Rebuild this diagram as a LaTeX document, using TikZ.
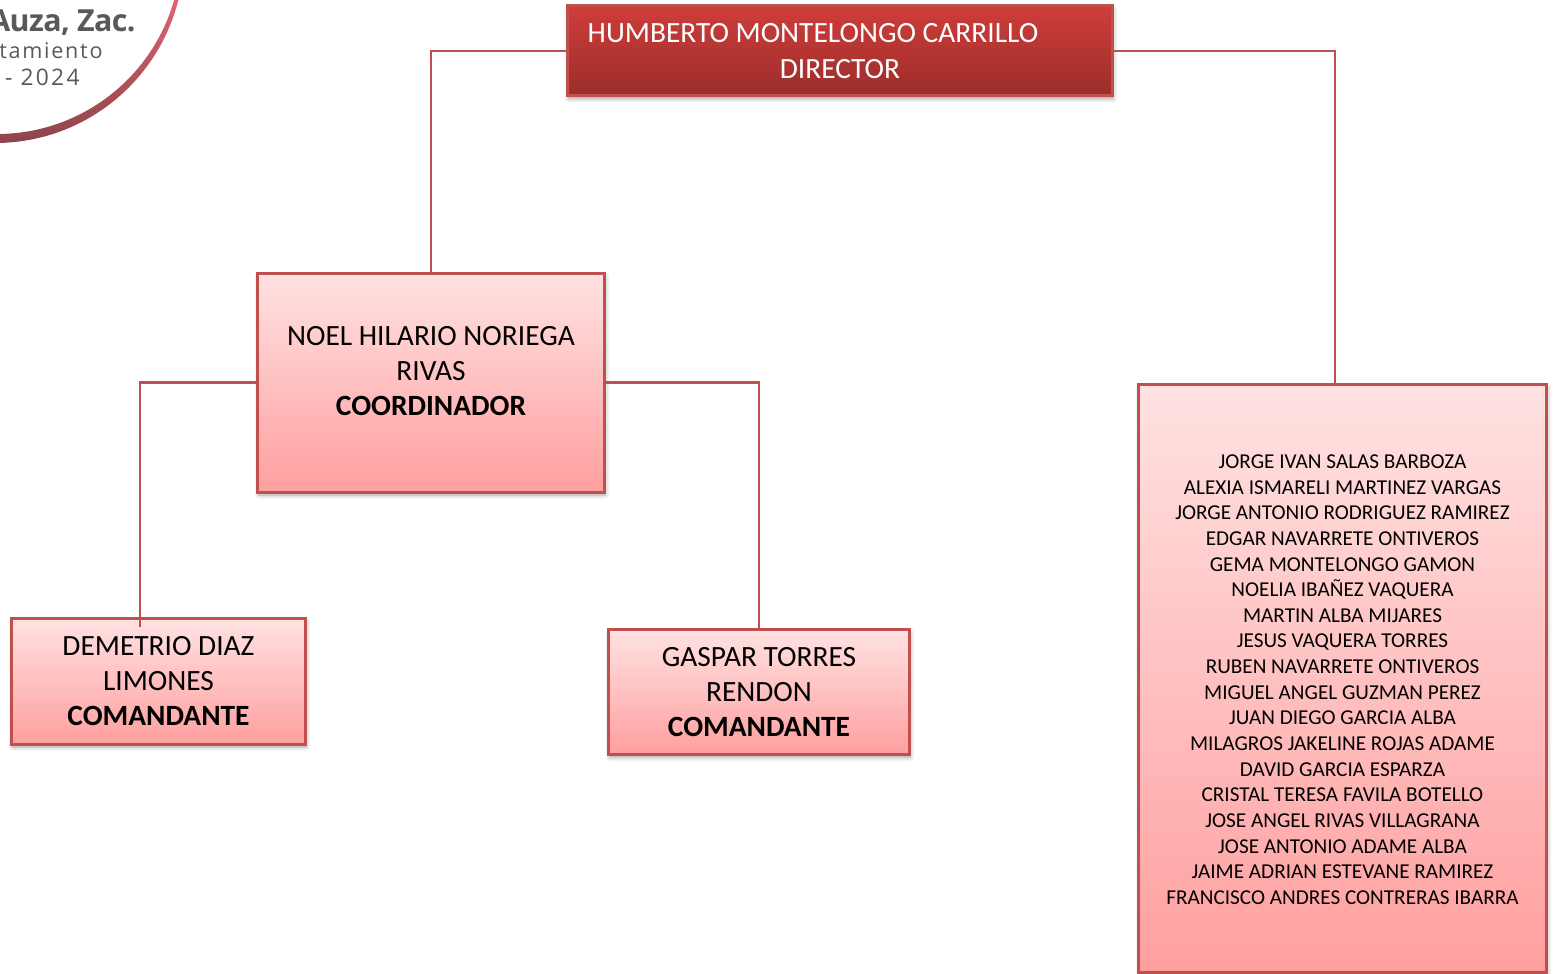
\documentclass[tikz,border=0pt]{standalone}
\usepackage{fontspec}
\setmainfont{Carlito}
\newfontfamily\logofont{Open Sans}
\usetikzlibrary{shadows.blur}
\definecolor{linered}{HTML}{C0504D}
\definecolor{paletop}{HTML}{FFE2E2}
\definecolor{palebottom}{HTML}{FF9F9F}
\definecolor{headtop}{HTML}{CE3D3A}
\definecolor{headbottom}{HTML}{9B2D2B}
\definecolor{logogray}{HTML}{58595B}
\definecolor{logotop}{HTML}{DE6470}
\definecolor{logobottom}{HTML}{8C434A}
\tikzset{
  personbox/.style={draw=linered,line width=1.5pt,top color=paletop,bottom color=palebottom,
    align=center,outer sep=0pt,inner sep=0pt,font=\fontsize{14.7}{17.7}\selectfont,
    blur shadow={shadow xshift=0.5pt,shadow yshift=-1.5pt,shadow blur radius=2pt,shadow blur steps=6,shadow opacity=35}},
  headbox/.style={personbox,top color=headtop,bottom color=headbottom,text=white},
  linkline/.style={draw=linered,line width=1.2pt},
  logotext/.style={text=logogray,anchor=base east,inner sep=0pt}
}
\begin{document}
\begin{tikzpicture}[x=0.5pt,y=-0.5pt]
\useasboundingbox (0,0) rectangle (1554,974);

\begin{scope}[even odd rule]
\clip (-5,-46) circle [radius=189] (-3,-50) circle [radius=184];
\shade[top color=logotop,bottom color=logobottom] (0,0) rectangle (190,146);
\end{scope}
\begin{scope}
\clip (0,0) rectangle (1554,974);
\node[logotext,font=\logofont\bfseries\fontsize{15.2}{16}\selectfont] (placename) at (136,32) {\addfontfeature{LetterSpace=-2}Auza, Zac.};
\node[logotext,font=\logofont\fontsize{10.8}{12}\selectfont] (office) at (103,59) {\addfontfeature{LetterSpace=8}tamiento};
\node[logotext,font=\logofont\fontsize{11.4}{12}\selectfont] (period) at (80,86) {\addfontfeature{LetterSpace=10}- 2024};
\end{scope}

\node[headbox,minimum width=272.5pt,minimum height=45pt] (director) at (840,51)
  {HUMBERTO MONTELONGO CARRILLO\hspace*{27pt}\\DIRECTOR};
\node[personbox,minimum width=173.5pt,minimum height=109.5pt] (noel) at (431,382.5)
  {NOEL HILARIO NORIEGA\\RIVAS\\\textbf{COORDINADOR}\\[-6.2pt]};
\node[personbox,minimum width=147pt,minimum height=63pt] (demetrio) at (158.5,681)
  {DEMETRIO DIAZ\\LIMONES\\\textbf{COMANDANTE}};
\node[personbox,minimum width=150.5pt,minimum height=62.5pt] (gaspar) at (759,692)
  {GASPAR TORRES\\RENDON\\\textbf{COMANDANTE}};
\node[personbox,minimum width=204pt,minimum height=294pt,font=\fontsize{10.6}{12.82}\selectfont] (staff) at (1342.5,678.5)
  {\\[-4.8pt]JORGE IVAN SALAS BARBOZA\\
   ALEXIA ISMARELI MARTINEZ VARGAS\\
   JORGE ANTONIO RODRIGUEZ RAMIREZ\\
   EDGAR NAVARRETE ONTIVEROS\\
   GEMA MONTELONGO GAMON\\
   NOELIA IBAÑEZ VAQUERA\\
   MARTIN ALBA MIJARES\\
   JESUS VAQUERA TORRES\\
   RUBEN NAVARRETE ONTIVEROS\\
   MIGUEL ANGEL GUZMAN PEREZ\\
   JUAN DIEGO GARCIA ALBA\\
   MILAGROS JAKELINE ROJAS ADAME\\
   DAVID GARCIA ESPARZA\\
   CRISTAL TERESA FAVILA BOTELLO\\
   JOSE ANGEL RIVAS VILLAGRANA\\
   JOSE ANTONIO ADAME ALBA\\
   JAIME ADRIAN ESTEVANE RAMIREZ\\
   FRANCISCO ANDRES CONTRERAS IBARRA};

\coordinate (staffin) at (1335,384);
\coordinate (demetrioin) at (140,627);

\draw[linkline] (director.west) -| (noel.north);
\draw[linkline] (director.east) -| (staffin);
\draw[linkline] (noel.west) -| (demetrioin);
\draw[linkline] (noel.east) -| (gaspar.north);
\end{tikzpicture}
\end{document}
